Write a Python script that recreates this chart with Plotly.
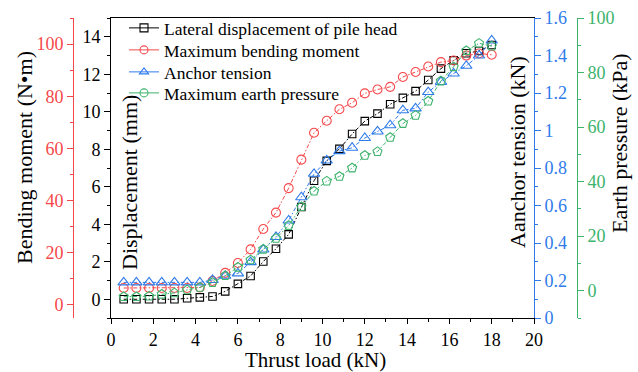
import plotly.graph_objects as go

thrust = [0.6, 1.2, 1.8, 2.4, 3.0, 3.6, 4.2, 4.8, 5.4, 6.0, 6.6, 7.2, 7.8, 8.4, 9.0,
          9.6, 10.2, 10.8, 11.4, 12.0, 12.6, 13.2, 13.8, 14.4, 15.0, 15.6, 16.2, 16.8, 17.4, 18.0]
displacement = [0.0, 0.0, 0.0, 0.0, 0.0, 0.05, 0.1, 0.15, 0.42, 0.82, 1.24, 2.01, 2.69, 3.46, 4.92,
                6.32, 7.38, 8.02, 8.81, 9.5, 9.9, 10.4, 10.74, 11.1, 11.69, 12.3, 12.74, 13.12, 13.24, 13.56]
moment = [6.5, 6.5, 6.5, 6.5, 6.5, 6.5, 6.7, 9.2, 12.3, 16.1, 21.3, 29.1, 35.4, 44.8, 55.7,
          66.0, 70.6, 75.0, 77.5, 81.1, 82.6, 83.6, 87.4, 89.3, 91.4, 93.1, 93.7, 95.6, 96.4, 95.9]
tension = [0.19, 0.19, 0.19, 0.19, 0.19, 0.19, 0.19, 0.203, 0.225, 0.238, 0.298, 0.365, 0.432, 0.52, 0.644,
           0.769, 0.84, 0.89, 0.908, 0.96, 0.995, 1.028, 1.108, 1.118, 1.205, 1.259, 1.304, 1.345, 1.40, 1.48]
pressure = [-2.2, -2.2, -2.0, -1.3, -0.8, 0.3, 1.2, 3.0, 5.5, 8.6, 11.3, 15.2, 19.2, 23.9, 30.8,
            36.5, 40.2, 41.9, 45.0, 49.6, 51.0, 56.2, 61.3, 64.3, 69.5, 76.9, 82.1, 88.0, 90.7, 89.7]

names = ["Lateral displacement of pile head", "Maximum bending moment",
         "Anchor tension", "Maximum earth pressure"]

BLACK = "#000000"
RED = "#F5484A"
BLUE = "#2F7BEA"
GREEN = "#3DB36C"
FONT = "Liberation Serif"
DASH = "4px,2px,1.5px,2px"

series = [
    (displacement, "y", BLACK, "square-open", 7.5, "square-open"),
    (moment, "y2", RED, "circle-open", 9, "circle-open"),
    (tension, "y3", BLUE, "triangle-up-open", 10, "triangle-up-open"),
    (pressure, "y4", GREEN, "pentagon-open", 9.5, "circle-open"),
]
legend_ids = ["legend", "legend2", "legend3", "legend4"]
legend_rows = [28, 50, 72, 93]

fig = go.Figure()
for (vals, ax, col, sym, sz, lsym), nm in zip(series, names):
    fig.add_trace(go.Scatter(
        x=thrust, y=vals, yaxis=ax, mode="lines+markers", name=nm, showlegend=False,
        line=dict(color=col, width=1, dash=DASH),
        marker=dict(symbol=sym, size=sz, color=col, line=dict(color=col, width=1.1)),
    ))
for (vals, ax, col, sym, sz, lsym), nm, lid in zip(series, names, legend_ids):
    fig.add_trace(go.Scatter(
        x=[None], y=[None], yaxis="y", mode="lines+markers", name=nm, showlegend=True,
        legend=lid,
        line=dict(color=col, width=1),
        marker=dict(symbol=lsym, size=8, color=col, line=dict(color=col, width=1.1)),
    ))

W, H = 638, 372
ML, MR, MT, MB = 20, 20, 18, 54
PW = W - ML - MR
PH = H - MT - MB


def px(xp):
    return (xp - ML) / PW


def py(yp):
    return (H - MB - yp) / PH


common = dict(showgrid=False, zeroline=False, showline=True, linewidth=1,
              ticks="outside", ticklen=6, tickwidth=1)

fig.update_layout(
    width=W, height=H,
    margin=dict(l=ML, r=MR, t=MT, b=MB, pad=0, autoexpand=False),
    paper_bgcolor="white", plot_bgcolor="white",
    font=dict(family=FONT, size=18, color="black"),
    xaxis=dict(domain=[px(111), px(534)], range=[0, 20], dtick=2, tick0=0,
               linecolor=BLACK, tickcolor=BLACK, mirror=True,
               tickfont=dict(family=FONT, size=18, color=BLACK),
               minor=dict(dtick=1, ticks="outside", ticklen=3, tickcolor=BLACK),
               showgrid=False, zeroline=False, showline=True, linewidth=1,
               ticks="outside", ticklen=5, tickwidth=1),
    yaxis=dict(range=[-1, 15], dtick=2, tick0=0, anchor="x", side="left",
               linecolor=BLACK, tickcolor=BLACK,
               tickfont=dict(family=FONT, size=18, color=BLACK),
               minor=dict(dtick=1, ticks="outside", ticklen=3, tickcolor=BLACK),
               **common),
    yaxis2=dict(range=[-5, 110], dtick=20, tick0=0, overlaying="y", anchor="free",
                position=px(73), side="left",
                linecolor=RED, tickcolor=RED,
                tickfont=dict(family=FONT, size=18, color=RED),
                minor=dict(dtick=10, ticks="outside", ticklen=3, tickcolor=RED),
                **common),
    yaxis3=dict(range=[0, 1.6], dtick=0.2, tick0=0, overlaying="y", anchor="x", side="right",
                linecolor=BLUE, tickcolor=BLUE,
                tickfont=dict(family=FONT, size=18, color=BLUE),
                minor=dict(dtick=0.1, ticks="outside", ticklen=3, tickcolor=BLUE),
                **common),
    yaxis4=dict(range=[-10, 100], dtick=20, tick0=0, overlaying="y", anchor="free",
                position=px(577), side="right",
                linecolor=GREEN, tickcolor=GREEN,
                tickfont=dict(family=FONT, size=18, color=GREEN),
                minor=dict(dtick=10, ticks="outside", ticklen=3, tickcolor=GREEN),
                **common),
)

for lid, row in zip(legend_ids, legend_rows):
    fig.update_layout({lid: dict(x=px(124), y=(H - row) / H, xref="paper", yref="container",
                                 xanchor="left", yanchor="middle",
                                 bgcolor="rgba(0,0,0,0)", borderwidth=0,
                                 font=dict(family=FONT, size=17.5, color="black"),
                                 itemsizing="trace")})

titles = [
    ("Bending moment (N•m)", px(24), py(158), -90, 22),
    ("Displacement (mm)", px(129), py(183), -90, 22),
    ("Aanchor tension (kN)", px(517), py(152), -90, 22),
    ("Earth pressure (kPa)", px(619), py(143), -90, 22),
    ("Thrust load (kN)", px(315), py(360), 0, 21),
]
for txt, x, y, ang, fs in titles:
    fig.add_annotation(text=txt, x=x, y=y, xref="paper", yref="paper",
                       xanchor="center", yanchor="middle", showarrow=False,
                       textangle=ang, font=dict(family=FONT, size=fs, color="black"))

fig.write_html("out.html")
